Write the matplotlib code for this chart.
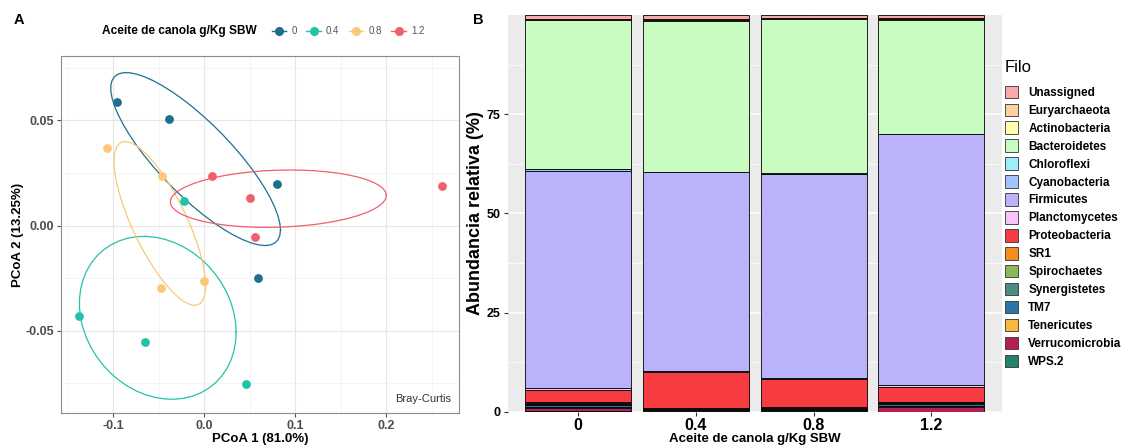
import numpy as np
import matplotlib
matplotlib.use("Agg")
import matplotlib.pyplot as plt
from matplotlib.lines import Line2D
from matplotlib.patches import Patch

plt.rcParams['font.family'] = ['Liberation Sans', 'DejaVu Sans']

# ---- panel A data (PCoA, Bray-Curtis) ----
groups = ["0", "0.4", "0.8", "1.2"]
group_colors = ["#1E6E8E", "#22C3A8", "#FBC878", "#EF5F6C"]
pc1 = {
    "0":   [-0.096, -0.039, 0.080, 0.059],
    "0.4": [-0.022, -0.137, -0.065, 0.046],
    "0.8": [-0.107, -0.046, -0.047, 0.000],
    "1.2": [0.009, 0.050, 0.261, 0.056],
}
pc2 = {
    "0":   [0.0589, 0.0505, 0.0199, -0.0251],
    "0.4": [0.0118, -0.0429, -0.0552, -0.0754],
    "0.8": [0.0368, 0.0235, -0.0298, -0.0264],
    "1.2": [0.0235, 0.0130, 0.0186, -0.0052],
}

# ---- panel B data (relative abundance by phylum, %) ----
doses = ["0", "0.4", "0.8", "1.2"]
phyla = ["Unassigned", "Euryarchaeota", "Actinobacteria", "Bacteroidetes",
         "Chloroflexi", "Cyanobacteria", "Firmicutes", "Planctomycetes",
         "Proteobacteria", "SR1", "Spirochaetes", "Synergistetes", "TM7",
         "Tenericutes", "Verrucomicrobia", "WPS.2"]
phyla_colors = ["#F9A9A9", "#FDD09E", "#FDFCAF", "#C9FCC0", "#9CEEF8",
                "#A3C3FC", "#BAB3FC", "#F8C3F9", "#F63C40", "#F38E1C",
                "#8DB95C", "#4B8B80", "#2A76A6", "#F8B83C", "#B41F56",
                "#25806F"]
abund = {
    "Unassigned":      [1.1, 0.9, 0.8, 0.8],
    "Euryarchaeota":   [0.1, 0.3, 0.1, 0.2],
    "Actinobacteria":  [0.1, 0.2, 0.1, 0.2],
    "Bacteroidetes":   [37.45, 38.1, 38.9, 28.7],
    "Chloroflexi":     [0.05, 0.05, 0.05, 0.05],
    "Cyanobacteria":   [0.4, 0.1, 0.05, 0.05],
    "Firmicutes":      [54.7, 50.15, 51.5, 63.2],
    "Planctomycetes":  [0.6, 0.1, 0.1, 0.5],
    "Proteobacteria":  [3.0, 9.2, 7.2, 3.7],
    "SR1":             [0.2, 0.1, 0.1, 0.2],
    "Spirochaetes":    [0.2, 0.1, 0.2, 0.2],
    "Synergistetes":   [0.3, 0.1, 0.2, 0.3],
    "TM7":             [0.5, 0.2, 0.2, 0.4],
    "Tenericutes":     [0.2, 0.2, 0.3, 0.3],
    "Verrucomicrobia": [0.9, 0.1, 0.1, 1.1],
    "WPS.2":           [0.2, 0.1, 0.1, 0.1],
}


def cov_trob(x, nu=5, maxit=25, tol=0.01):
    # multivariate t estimate, as MASS::cov.trob
    n, p = x.shape
    wt = np.ones(n)
    loc = x.mean(axis=0)
    w = np.sqrt(wt)
    for _ in range(maxit):
        w0 = w
        X = x - loc
        u, d, vt = np.linalg.svd(np.sqrt(w / w.sum())[:, None] * X, full_matrices=False)
        wX = X @ vt.T @ np.diag(1 / d)
        Q = (wX ** 2).sum(axis=1)
        w = wt * (nu + p) / (nu + Q)
        loc = (w[:, None] * x).sum(axis=0) / w.sum()
        if np.all(np.abs(w - w0) < tol):
            break
    sw = np.sqrt(w)[:, None] * X
    return sw.T @ sw / wt.sum(), loc


def ellipse_pts(xs, ys, level=0.5, segments=51):
    data = np.column_stack([xs, ys])
    shape, center = cov_trob(data)
    dfd = len(xs) - 1
    qf = dfd / 2 * ((1 - level) ** (-2 / dfd) - 1)  # F quantile, dfn = 2
    radius = np.sqrt(2 * qf)
    ang = np.linspace(0, 2 * np.pi, segments + 1)
    circ = np.column_stack([np.cos(ang), np.sin(ang)])
    R = np.linalg.cholesky(shape).T
    e = center + radius * (circ @ R)
    return e[:, 0], e[:, 1]


fig = plt.figure(figsize=(11.41, 4.45), dpi=100)

# ---------------- panel A ----------------
axA = fig.add_axes([0.0535, 0.072, 0.349, 0.802])
axA.set_facecolor("white")
for g, c in zip(groups, group_colors):
    ex, ey = ellipse_pts(pc1[g], pc2[g])
    axA.plot(ex, ey, color=c, lw=0.9, zorder=2)
    axA.scatter(pc1[g], pc2[g], s=40, color=c, zorder=3, linewidths=0)
axA.set_xlim(-0.157, 0.28)
axA.set_ylim(-0.089, 0.0805)
axA.set_xticks([-0.1, 0.0, 0.1, 0.2])
axA.set_xticklabels(["-0.1", "0.0", "0.1", "0.2"])
axA.set_yticks([-0.05, 0.0, 0.05])
axA.set_yticklabels(["-0.05", "0.00", "0.05"])
axA.set_xticks([-0.15, -0.05, 0.05, 0.15, 0.25], minor=True)
axA.set_yticks([-0.075, -0.025, 0.025, 0.075], minor=True)
axA.grid(which="major", color="#E6E6E6", lw=0.8, zorder=0)
axA.grid(which="minor", color="#F2F2F2", lw=0.5, zorder=0)
axA.set_axisbelow(True)
axA.tick_params(which="minor", length=0)
axA.tick_params(which="major", length=3, color="#555555", labelsize=9,
                labelcolor="#4D4D4D", pad=2)
for lab in axA.get_xticklabels() + axA.get_yticklabels():
    lab.set_fontweight("bold")
for sp in axA.spines.values():
    sp.set_color("#8C8C8C")
    sp.set_linewidth(0.8)
axA.set_xlabel("PCoA 1 (81.0%)", fontsize=9.5, fontweight="bold", labelpad=1)
axA.set_ylabel("PCoA 2 (13.25%)", fontsize=9.5, fontweight="bold", labelpad=1)
axA.text(0.98, 0.025, "Bray-Curtis", transform=axA.transAxes, ha="right",
         va="bottom", fontsize=8, color="#333333")
fig.text(14 / 1141, 1 - 20 / 445, "A", fontsize=10.5, fontweight="bold", va="center")

fig.text(102 / 1141, 1 - 31 / 445, "Aceite de canola g/Kg SBW", fontsize=8.6,
         fontweight="bold", va="center")
handlesA = [Line2D([], [], color=c, marker="o", markersize=5.5, lw=1) for c in group_colors]
fig.legend(handlesA, groups, loc="center left", bbox_to_anchor=(263 / 1141, 1 - 31 / 445),
           ncol=4, frameon=False, fontsize=7, handlelength=1.5, handletextpad=0.5,
           columnspacing=1.0, labelcolor="#555555")

# ---------------- panel B ----------------
axB = fig.add_axes([0.4448, 0.0742, 0.4335, 0.8921])
axB.set_facecolor("#EBEBEB")
xpos = np.arange(1, len(doses) + 1)
bottom = np.zeros(len(doses))
for name, col in reversed(list(zip(phyla, phyla_colors))):
    vals = np.array(abund[name])
    axB.bar(xpos, vals, bottom=bottom, width=0.9, color=col, edgecolor="black",
            linewidth=0.6, zorder=3)
    bottom += vals
axB.set_xlim(0.4, 4.6)
axB.set_ylim(0, 100)
axB.set_xticks(xpos)
axB.set_xticklabels(doses)
axB.set_yticks([0, 25, 50, 75])
axB.set_yticks([12.5, 37.5, 62.5, 87.5], minor=True)
axB.grid(which="major", color="white", lw=1.1, zorder=0)
axB.grid(which="minor", axis="y", color="white", lw=0.5, zorder=0)
axB.set_axisbelow(True)
for sp in axB.spines.values():
    sp.set_visible(False)
axB.tick_params(which="minor", length=0)
axB.tick_params(axis="y", length=3, color="#333333", labelsize=9, pad=2)
axB.tick_params(axis="x", length=3, color="#333333", labelsize=11.5, pad=1)
for lab in axB.get_xticklabels() + axB.get_yticklabels():
    lab.set_fontweight("bold")
axB.set_ylabel("Abundancia relativa (%)", fontsize=13, fontweight="bold", labelpad=2)
axB.set_xlabel("Aceite de canola g/Kg SBW", fontsize=9.5, fontweight="bold", labelpad=0)
fig.text(473 / 1141, 1 - 20 / 445, "B", fontsize=10.5, fontweight="bold", va="center")

fig.text(1005 / 1141, 1 - 67 / 445, "Filo", fontsize=12, va="center")
handlesB = [Patch(facecolor=c, edgecolor="#333333", linewidth=0.6) for c in phyla_colors]
legB = fig.legend(handlesB, phyla, loc="upper left", bbox_to_anchor=(994 / 1141, 1 - 75 / 445),
                  frameon=False, fontsize=8.5, handlelength=1.1, handleheight=1.25,
                  handletextpad=0.9, labelspacing=0.40)
for t in legB.get_texts():
    t.set_fontweight("bold")

fig.savefig("out.png", dpi=100)
